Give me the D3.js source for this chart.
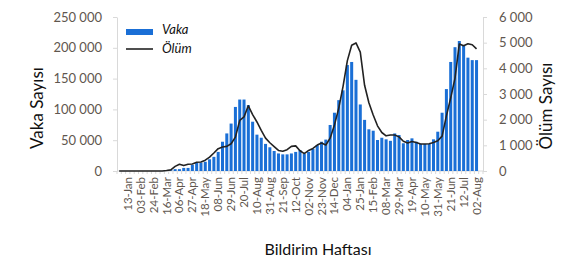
<!DOCTYPE html>
<html>
<head>
<meta charset="utf-8">
<script src="https://cdn.jsdelivr.net/npm/d3@7"></script>
<style>
  html, body { margin: 0; padding: 0; background: #fff; }
  #chart text { font-family: Lato, "Open Sans", sans-serif; }
</style>
</head>
<body>
<div id="chart"></div>
<script>
// Configuration
const CONFIG = {
    width: 583,
    height: 260,
    plot: { left: 117, right: 483, top: 17, bottom: 171 },
    barColor: '#1a6fd6',
    lineColor: '#222222',
    axisColor: '#d9d9d9',
    tickTextColor: '#5f574f'
};

// Notification weeks (Monday of each week)
const weeks = [
    '30-Dec',
    '06-Jan', '13-Jan', '20-Jan', '27-Jan', '03-Feb', '10-Feb', '17-Feb', '24-Feb',
    '02-Mar', '09-Mar', '16-Mar', '23-Mar', '30-Mar', '06-Apr', '13-Apr', '20-Apr', '27-Apr',
    '04-May', '11-May', '18-May', '25-May', '01-Jun', '08-Jun', '15-Jun', '22-Jun', '29-Jun',
    '06-Jul', '13-Jul', '20-Jul', '27-Jul', '03-Aug', '10-Aug', '17-Aug', '24-Aug', '31-Aug',
    '07-Sep', '14-Sep', '21-Sep', '28-Sep', '05-Oct', '12-Oct', '19-Oct', '26-Oct',
    '02-Nov', '09-Nov', '16-Nov', '23-Nov', '30-Nov', '07-Dec', '14-Dec', '21-Dec', '28-Dec',
    '04-Jan', '11-Jan', '18-Jan', '25-Jan', '01-Feb', '08-Feb', '15-Feb', '22-Feb',
    '01-Mar', '08-Mar', '15-Mar', '22-Mar', '29-Mar', '05-Apr', '12-Apr', '19-Apr', '26-Apr',
    '03-May', '10-May', '17-May', '24-May', '31-May', '07-Jun', '14-Jun', '21-Jun', '28-Jun',
    '05-Jul', '12-Jul', '19-Jul', '26-Jul', '02-Aug', '09-Aug'
];

// Weeks that carry a label on the x axis
const xTickLabels = [
    '13-Jan', '03-Feb', '24-Feb', '16-Mar', '06-Apr', '27-Apr', '18-May', '08-Jun', '29-Jun',
    '20-Jul', '10-Aug', '31-Aug', '21-Sep', '12-Oct', '02-Nov', '23-Nov', '14-Dec', '04-Jan',
    '25-Jan', '15-Feb', '08-Mar', '29-Mar', '19-Apr', '10-May', '31-May', '21-Jun', '12-Jul', '02-Aug'
];

// Weekly cases (left axis)
const cases = [
    0, 0, 0, 0, 0, 0, 0, 0, 0, 0,
    0, 300, 1200, 3000, 3000, 5000, 5000, 10000, 13000, 13500,
    15000, 19000, 23000, 31000, 47500, 61000, 77000, 104000, 116000, 116000,
    107000, 80000, 59000, 54000, 44000, 38500, 32500, 28500, 27000, 27000,
    28500, 31000, 34000, 27500, 31000, 35700, 42000, 47500, 51000, 74700,
    94600, 115000, 131000, 172000, 177000, 148000, 108000, 83000, 67700, 65400,
    50300, 54000, 51400, 49000, 61000, 58400, 45000, 50300, 53000, 47500,
    43800, 43800, 43800, 51400, 63800, 94600, 133000, 177000, 201000, 211000,
    204000, 184000, 180000, 180000, null
];

// Weekly deaths (right axis)
const deaths = [
    0, 0, 0, 0, 0, 0, 0, 0, 0, 0,
    0, 20, 45, 180, 265, 210, 262, 273, 338, 350,
    420, 540, 700, 870, 935, 960, 1060, 1320, 1970, 2110,
    2540, 2200, 1910, 1580, 1280, 1100, 950, 800, 770, 830,
    960, 980, 790, 680, 800, 880, 1010, 1090, 1014, 1280,
    1790, 2450, 3300, 4300, 4900, 4990, 4630, 3340, 2660, 2180,
    1760, 1500, 1370, 1404, 1404, 1330, 1160, 1095, 1150, 1110,
    1053, 1053, 1060, 1108, 1180, 1360, 2150, 2850, 3620, 4950,
    4880, 4960, 4920, 4760, null
];

const caseTicks = [0, 50000, 100000, 150000, 200000, 250000];
const deathTicks = [0, 1000, 2000, 3000, 4000, 5000, 6000];

const trLocale = d3.formatLocale({ decimal: ',', thousands: ' ', grouping: [3], currency: ['', ''] });
const fmt = trLocale.format(',d');

function drawChart() {
    const P = CONFIG.plot;

    const svg = d3.select('#chart')
        .append('svg')
        .attr('width', CONFIG.width)
        .attr('height', CONFIG.height);

    const x = d3.scaleBand().domain(weeks).range([P.left, P.right]).padding(0);
    const yL = d3.scaleLinear().domain([0, 250000]).range([P.bottom, P.top]);
    const yR = d3.scaleLinear().domain([0, 6000]).range([P.bottom, P.top]);
    const bw = x.bandwidth();

    // Left axis
    const leftAxis = svg.append('g')
        .attr('transform', `translate(${P.left},0)`)
        .call(d3.axisLeft(yL).tickValues(caseTicks).tickFormat(fmt).tickSize(4).tickSizeOuter(0).tickPadding(11));

    // Right axis
    const rightAxis = svg.append('g')
        .attr('transform', `translate(${P.right},0)`)
        .call(d3.axisRight(yR).tickValues(deathTicks).tickFormat(fmt).tickSize(4).tickSizeOuter(0).tickPadding(12));

    [leftAxis, rightAxis].forEach(g => {
        g.select('.domain').attr('stroke', CONFIG.axisColor);
        g.selectAll('.tick line').attr('stroke', CONFIG.axisColor);
        g.selectAll('.tick text')
            .attr('fill', CONFIG.tickTextColor)
            .style('font-size', '13px');
    });

    // Bottom axis: baseline, tick marks between categories, rotated labels
    const bottom = svg.append('g');
    bottom.append('line')
        .attr('x1', P.left).attr('x2', P.right)
        .attr('y1', P.bottom).attr('y2', P.bottom)
        .attr('stroke', CONFIG.axisColor);

    bottom.selectAll('.xtick')
        .data(weeks.concat(['end']))
        .enter()
        .append('line')
        .attr('class', 'xtick')
        .attr('x1', (d, i) => P.left + i * x.step())
        .attr('x2', (d, i) => P.left + i * x.step())
        .attr('y1', P.bottom)
        .attr('y2', P.bottom + 3)
        .attr('stroke', CONFIG.axisColor);

    bottom.selectAll('.xlabel')
        .data(weeks.filter(w => xTickLabels.includes(w)))
        .enter()
        .append('text')
        .attr('class', 'xlabel')
        .attr('transform', d => `translate(${x(d) + bw / 2 + 4},${P.bottom + 6}) rotate(-90)`)
        .attr('text-anchor', 'end')
        .attr('fill', CONFIG.tickTextColor)
        .style('font-size', '11.5px')
        .text(d => d);

    // Case bars
    svg.append('g')
        .selectAll('rect')
        .data(weeks.map((w, i) => ({ week: w, value: cases[i] })).filter(d => d.value != null))
        .enter()
        .append('rect')
        .attr('x', d => x(d.week) + bw * 0.15)
        .attr('width', bw * 0.7)
        .attr('y', d => yL(d.value))
        .attr('height', d => P.bottom - yL(d.value))
        .attr('fill', CONFIG.barColor);

    // Death line
    const line = d3.line()
        .defined(d => d.value != null)
        .x(d => x(d.week) + bw / 2)
        .y(d => yR(d.value));

    svg.append('path')
        .datum(weeks.map((w, i) => ({ week: w, value: deaths[i] })))
        .attr('d', line)
        .attr('fill', 'none')
        .attr('stroke', CONFIG.lineColor)
        .attr('stroke-width', 1.6)
        .attr('stroke-linejoin', 'round');

    // Legend
    const legend = svg.append('g');
    legend.append('rect')
        .attr('x', 126).attr('y', 29).attr('width', 27).attr('height', 6)
        .attr('fill', CONFIG.barColor);
    legend.append('text')
        .attr('x', 162).attr('y', 34)
        .style('font-size', '13px').style('font-style', 'italic')
        .attr('fill', '#111')
        .text('Vaka');
    legend.append('line')
        .attr('x1', 126).attr('x2', 153).attr('y1', 49).attr('y2', 49)
        .attr('stroke', CONFIG.lineColor).attr('stroke-width', 1.6);
    legend.append('text')
        .attr('x', 162).attr('y', 53)
        .style('font-size', '13px').style('font-style', 'italic')
        .attr('fill', '#111')
        .text('Ölüm');

    // Axis titles
    svg.append('text')
        .attr('transform', 'translate(43,108) rotate(-90)')
        .attr('text-anchor', 'middle')
        .style('font-size', '17px')
        .attr('fill', '#111')
        .text('Vaka Sayısı');

    svg.append('text')
        .attr('transform', 'translate(552,106) rotate(-90)')
        .attr('text-anchor', 'middle')
        .style('font-size', '17px')
        .attr('fill', '#111')
        .text('Ölüm Sayısı');

    svg.append('text')
        .attr('x', 318).attr('y', 255)
        .attr('text-anchor', 'middle')
        .style('font-size', '16px')
        .attr('fill', '#111')
        .text('Bildirim Haftası');
}

drawChart();
</script>
</body>
</html>
